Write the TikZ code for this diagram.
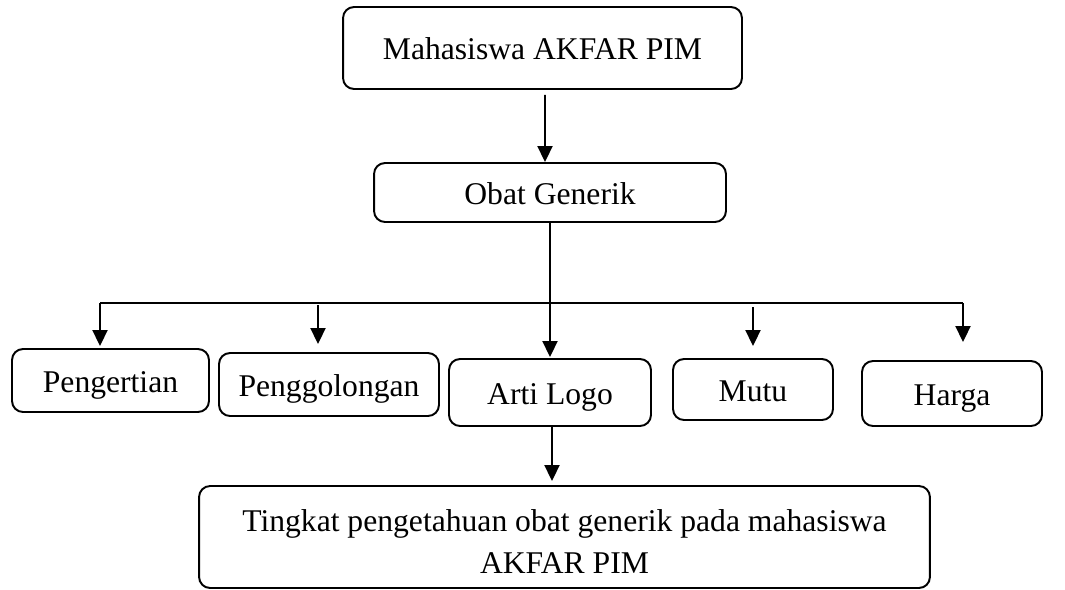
\documentclass[tikz,border=0pt]{standalone}
\usepackage{fontspec}
\setmainfont{Liberation Serif}
\usepackage{tikz}
\usetikzlibrary{arrows.meta, positioning, calc}

\begin{document}
\begin{tikzpicture}[
  x=0.02cm, y=-0.02cm,
  block/.style={draw, rounded corners=0.22cm, line width=1.1pt, inner sep=0pt,
                align=center, text height=14pt, text depth=0.4pt,
                font=\fontsize{18}{24}\selectfont},
  arr/.style={-{Triangle[length=0.32cm, width=0.3cm]}, line width=1.1pt},
  bus/.style={line width=0.6pt}
]
  \useasboundingbox (0,0) rectangle (1065,589);

  % Top
  \node[block, minimum width=7.98cm, minimum height=1.64cm] (mhs) at (542.5,48) {Mahasiswa AKFAR PIM};
  \node[block, minimum width=7.04cm, minimum height=1.18cm] (obat) at (550,192.5) {Obat Generik};

  % Aspects
  \node[block, minimum width=3.94cm, minimum height=1.26cm] (pengertian) at (110.5,380.5) {Pengertian};
  \node[block, minimum width=4.40cm, minimum height=1.26cm] (golongan) at (329,384.5) {Penggolongan};
  \node[block, minimum width=4.04cm, minimum height=1.34cm] (logo) at (550,392.5) {Arti Logo};
  \node[block, minimum width=3.20cm, minimum height=1.22cm] (mutu) at (753,389.5) {Mutu};
  \node[block, minimum width=3.60cm, minimum height=1.30cm] (harga) at (952,393.5) {Harga};

  % Result
  \node[block, text height=42.4pt, minimum width=14.62cm, minimum height=2.04cm] (hasil) at (564.5,537)
    {Tingkat pengetahuan obat generik pada mahasiswa\\AKFAR PIM};

  % bus line
  \coordinate (busL) at (100,303);
  \coordinate (busR) at (963,303);

  % wires
  \draw[arr, shorten <=0.1cm] ([xshift=0.05cm]mhs.south) -- ([xshift=-0.1cm]obat.north);
  \draw[arr, shorten >=0.02cm] (obat) -- (logo);
  \draw[bus] (busL) -- (busR);
  \draw[arr, shorten >=0.04cm] (busL) -- (busL |- pengertian.north);
  \draw[arr, shorten <=0.04cm, shorten >=0.16cm] ([xshift=-0.22cm]golongan.north |- busL) -- ([xshift=-0.22cm]golongan.north);
  \draw[arr, shorten <=0.08cm, shorten >=0.24cm] (mutu.north |- busL) -- (mutu.north);
  \draw[arr, shorten >=0.36cm] (busR) -- (busR |- harga.north);
  \draw[arr, shorten >=0.08cm] ([xshift=0.04cm]logo.south) -- ([xshift=0.04cm]logo.south |- hasil.north);
\end{tikzpicture}
\end{document}
